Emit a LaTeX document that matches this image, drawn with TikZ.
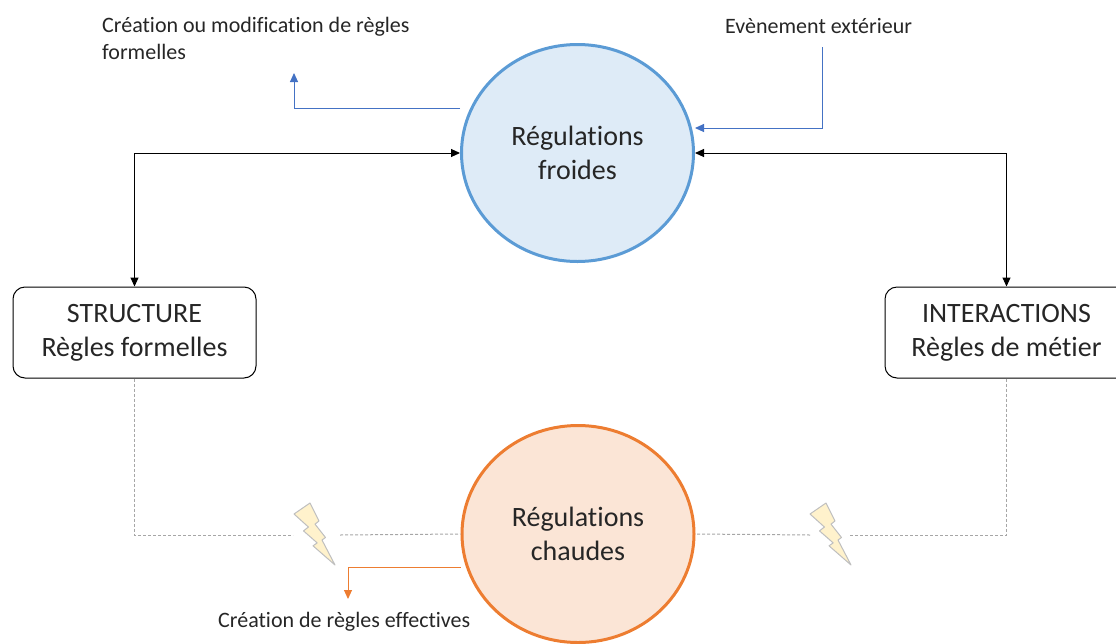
\documentclass[tikz,border=0pt]{standalone}
\usepackage{fontspec}
\setmainfont[Ligatures={NoCommon}]{Carlito}
\usepackage{tikz}
\usetikzlibrary{calc}
\usetikzlibrary{positioning}
\usetikzlibrary{shapes}
\usetikzlibrary{arrows.meta}

\definecolor{froidfill}{HTML}{DEEBF7}
\definecolor{froiddraw}{HTML}{5B9BD5}
\definecolor{chaudfill}{HTML}{FBE5D6}
\definecolor{chauddraw}{HTML}{ED7D31}
\definecolor{lienbleu}{HTML}{4472C4}
\definecolor{eclairfill}{HTML}{FFF2CC}
\definecolor{eclairdraw}{HTML}{BFBFBF}
\definecolor{pointille}{HTML}{A6A6A6}
\definecolor{texte}{HTML}{262626}

\begin{document}
\begin{tikzpicture}[x=1pt, y=-1pt, >={Triangle[length=9pt,width=8pt]},
		grand/.style={font=\fontsize{28}{34}\selectfont, text=texte, align=center},
		petit/.style={font=\fontsize{22}{27}\selectfont, text=texte, align=left, inner sep=0pt},
		regulation/.style={ellipse, grand, line width=3pt, minimum width=232pt, minimum height=217pt, inner sep=0pt},
		boite/.style={rectangle, rounded corners=12pt, draw, line width=1pt, grand, minimum width=243pt, minimum height=91pt},
		pointilles/.style={pointille, line width=1pt, dash pattern=on 3pt off 2pt},
		eclair/.style={fill=eclairfill, draw=eclairdraw, line width=1pt, line join=round}]
				\useasboundingbox (0,0) rectangle (1116,643);
				
				\node[regulation, draw=froiddraw, fill=froidfill] (F) at (577.5,153) {Régulations\\froides};
				\node[regulation, draw=chauddraw, fill=chaudfill] (C) at (578,534) {Régulations\\chaudes};
				\node[boite] (S) at (134.5,332.5) {STRUCTURE\\Règles formelles};
				\node[boite] (I) at (1006.5,332.5) {INTERACTIONS\\Règles de métier};
				
				\node[petit, anchor=base west] (M) at (102,59) {Création ou modification de règles\\formelles};
				\node[petit, anchor=base west] (E) at (725,33) {Evènement extérieur};
				\node[petit, anchor=base west] (R) at (218,627) {Création de règles effectives};
				
				\coordinate (m) at (294,73);
				\coordinate (e) at (822,47);
				\coordinate (r) at (348,599);
				\coordinate (b1) at (293,535);
				\coordinate (b2) at (340,535);
				\coordinate (b3) at (810,535);
				\coordinate (b4) at (850,535);
				
				\draw[<->, line width=1pt] (S.north) |- (F.west);
				\draw[<->, line width=1pt] (I.north) |- (F.east);
				\draw[->, lienbleu, line width=1pt] ([yshift=45pt]F.west) -| (m);
				\draw[->, lienbleu, line width=1pt] (e) |- ([yshift=25pt]F.east);
				\draw[->, chauddraw, line width=1pt] ([yshift=-33pt]C.west) -| (r);
				\draw[pointilles] (S.south) |- (b1);
				\draw[pointilles] (b2) -- (C.west);
				\draw[pointilles] (I.south) |- (b4);
				\draw[pointilles] (b3) -- (C.east);
				
				\foreach \bx in {294,810}
					\draw[eclair, shift={(\bx,503)}] (16,0) -- (0,11) -- (14.4,24) -- (9.5,27.9) -- (23.2,39.9) -- (19,42.8) -- (41,62) -- (28,37) -- (31.5,34.5) -- (21,21.1) -- (25,18) -- cycle;
			\end{tikzpicture}
\end{document}
